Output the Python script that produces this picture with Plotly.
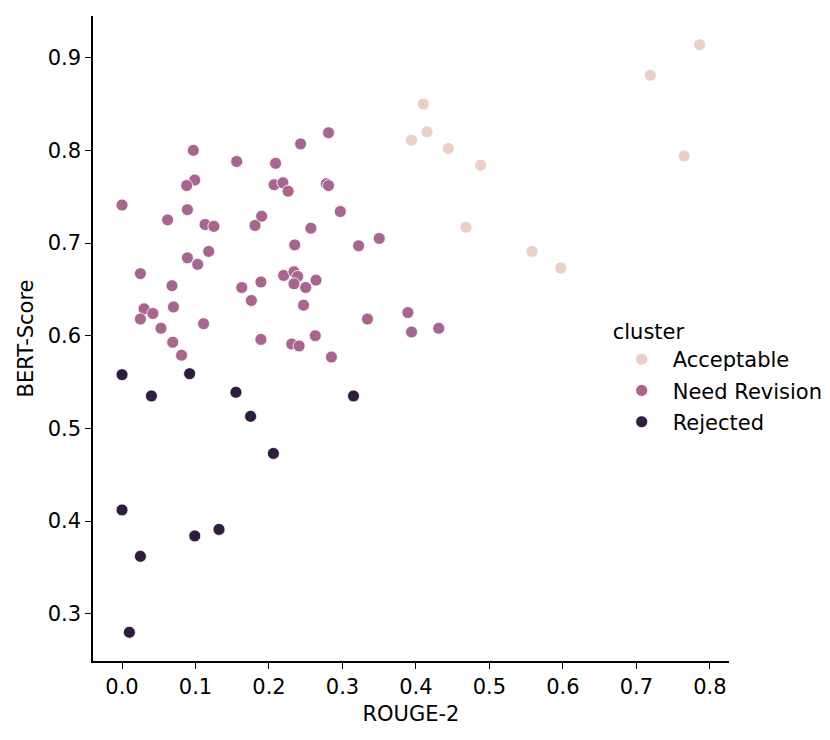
import plotly.graph_objects as go

# ROUGE-2 / BERT-Score pairs per cluster
acc_rouge = [0.786, 0.719, 0.410, 0.415, 0.394, 0.444, 0.488, 0.765, 0.468, 0.558, 0.597]
acc_bert = [0.914, 0.881, 0.850, 0.820, 0.811, 0.802, 0.784, 0.794, 0.717, 0.691, 0.673]

rev_rouge = [0.097, 0.156, 0.209, 0.099, 0.088, 0.207, 0.219, 0.226, 0.000, 0.089,
             0.062, 0.113, 0.125, 0.181, 0.190, 0.089, 0.103, 0.118, 0.025, 0.281,
             0.243, 0.278, 0.281, 0.297, 0.257, 0.235, 0.322, 0.350, 0.220, 0.234,
             0.239, 0.234, 0.250, 0.264, 0.163, 0.189, 0.176, 0.247, 0.334, 0.111,
             0.189, 0.231, 0.241, 0.263, 0.285, 0.389, 0.394, 0.431, 0.068, 0.030,
             0.042, 0.025, 0.070, 0.053, 0.069, 0.081]
rev_bert = [0.800, 0.788, 0.786, 0.768, 0.762, 0.763, 0.765, 0.756, 0.741, 0.736,
            0.725, 0.720, 0.718, 0.719, 0.729, 0.684, 0.677, 0.691, 0.667, 0.819,
            0.807, 0.764, 0.762, 0.734, 0.716, 0.698, 0.697, 0.705, 0.665, 0.669,
            0.664, 0.656, 0.652, 0.660, 0.652, 0.658, 0.638, 0.633, 0.618, 0.613,
            0.596, 0.591, 0.589, 0.600, 0.577, 0.625, 0.604, 0.608, 0.654, 0.629,
            0.624, 0.618, 0.631, 0.608, 0.593, 0.579]

rej_rouge = [0.206, 0.000, 0.025, 0.099, 0.132, 0.010, 0.000, 0.092, 0.040, 0.155, 0.175, 0.315]
rej_bert = [0.473, 0.412, 0.362, 0.384, 0.391, 0.280, 0.558, 0.559, 0.535, 0.539, 0.513, 0.535]

clusters = ["Acceptable", "Need Revision", "Rejected"]
colors = ["#EBCFC6", "#A8668F", "#2D1E3E"]

FONT = "DejaVu Sans"
FS = 21

fig = go.Figure()
for name, xs, ys, c in zip(clusters,
                           [acc_rouge, rev_rouge, rej_rouge],
                           [acc_bert, rev_bert, rej_bert],
                           colors):
    fig.add_trace(go.Scatter(
        x=xs, y=ys, mode="markers", name=name, legendgroup=name,
        marker=dict(color=c, size=12, line=dict(color="white", width=0.8)),
    ))

axis_style = dict(
    showgrid=False, zeroline=False, showline=True, linecolor="black", linewidth=1.5,
    ticks="outside", ticklen=6, tickwidth=1.3, tickcolor="black",
    tickfont=dict(family=FONT, size=FS, color="black"),
)

fig.update_layout(
    width=830, height=740,
    margin=dict(l=85, r=109, t=8, b=87),
    plot_bgcolor="white", paper_bgcolor="white",
    font=dict(family=FONT, size=FS, color="black"),
    xaxis=dict(range=[-0.0395, 0.826], dtick=0.1, tickformat=".1f",
               title=dict(text="ROUGE-2", font=dict(family=FONT, size=FS), standoff=8),
               **axis_style),
    yaxis=dict(range=[0.249, 0.945], dtick=0.1, tickformat=".1f",
               title=dict(text="BERT-Score", font=dict(family=FONT, size=FS), standoff=8),
               **axis_style),
    legend=dict(
        title=dict(text="cluster", font=dict(family=FONT, size=FS)),
        x=0.814, y=0.44, xanchor="left", yanchor="middle",
        bgcolor="rgba(0,0,0,0)", font=dict(family=FONT, size=FS),
        itemwidth=52, tracegroupgap=1,
    ),
)

fig.write_html("out.html")
